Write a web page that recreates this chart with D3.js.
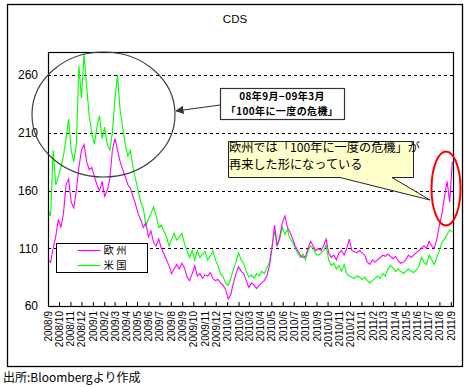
<!DOCTYPE html>
<html>
<head>
<meta charset="utf-8">
<script src="https://cdn.jsdelivr.net/npm/d3@7"></script>
<style>
  body { margin: 0; background: #fff; }
  svg text { font-family: "Liberation Sans", Arial, sans-serif; }
  .jp { font-family: "Noto Sans CJK JP", sans-serif; }
</style>
</head>
<body>
<div id="chart"></div>
<script>
// weekly CDS readings, first week starting 2008/9/1
const startDate = "2008-09-01";
const seriesNames = ["欧州", "米国"];
const euValues = [
  100, 98, 110, 120, 135, 128, 140, 165, 170, 150, 145, 160, 180, 195, 200, 185,
  178, 180, 172, 165, 160, 168, 155, 160, 170, 195, 205, 195, 185, 178, 172, 165,
  162, 155, 148, 140, 135, 128, 132, 120, 125, 115, 112, 118, 110, 105, 100, 95,
  88, 92, 96, 92, 97, 93, 85, 82, 88, 95, 86, 88, 84, 87, 86, 89,
  84, 82, 83, 80, 78, 74, 66, 70, 80, 88, 94, 90, 88, 82, 76, 80,
  78, 75, 78, 80, 82, 86, 95, 110, 130, 112, 120, 132, 138, 128, 124, 118,
  112, 108, 104, 102, 103, 110, 116, 112, 108, 110, 108, 112, 118, 106, 102, 104,
  100, 106, 108, 104, 110, 118, 108, 107, 106, 108, 106, 104, 98, 96, 100, 98,
  100, 102, 104, 103, 105, 103, 101, 103, 99, 97, 98, 100, 104, 102, 104, 106,
  108, 110, 112, 110, 116, 112, 110, 118, 130, 140, 155, 168, 150, 185
];
const usValues = [
  143, 138, 195, 165, 172, 180, 190, 205, 222, 195, 185, 200, 268, 240, 278, 250,
  225, 210, 200, 215, 225, 205, 215, 200, 195, 210, 240, 260, 230, 215, 200, 190,
  195, 180, 170, 160, 150, 145, 130, 135, 140, 146, 138, 128, 130, 125, 120, 112,
  118, 123, 117, 120, 123, 114, 108, 102, 108, 100, 108, 102, 105, 107, 100, 103,
  108, 100, 95, 88, 85, 80, 78, 84, 92, 98, 106, 100, 97, 90, 85, 87,
  84, 88, 86, 90, 88, 93, 98, 112, 125, 112, 118, 128, 122, 126, 118, 115,
  110, 106, 102, 105, 100, 108, 112, 110, 105, 104, 106, 108, 113, 100, 95, 97,
  92, 95, 90, 96, 88, 86, 85, 84, 86, 85, 83, 85, 82, 80, 82, 84,
  86, 84, 88, 86, 92, 95, 93, 90, 92, 90, 88, 90, 92, 90, 89, 91,
  94, 102, 98, 96, 104, 100, 96, 102, 108, 115, 118, 122, 126, 124
];
const tickLabels = [
  "2008/9", "2008/10", "2008/11", "2008/12", "2009/1", "2009/2", "2009/3", "2009/4",
  "2009/5", "2009/6", "2009/7", "2009/8", "2009/9", "2009/10", "2009/11", "2009/12",
  "2010/1", "2010/2", "2010/3", "2010/4", "2010/5", "2010/6", "2010/7", "2010/8",
  "2010/9", "2010/10", "2010/11", "2010/12", "2011/1", "2011/2", "2011/3", "2011/4",
  "2011/5", "2011/6", "2011/7", "2011/8", "2011/9"
];
const yTicks = [60, 110, 160, 210, 260];

const width = 467, height = 387;
const plot = { left: 48, top: 52, right: 453, bottom: 306 };

const parseDay = d3.timeParse("%Y-%m-%d");
const parseMonth = d3.timeParse("%Y/%m");
const d0 = parseDay(startDate);
const weekDate = i => d3.timeDay.offset(d0, i * 7);
const tickDates = tickLabels.map(parseMonth);

const svg = d3.select("#chart")
  .append("svg")
  .attr("width", width)
  .attr("height", height);

// outer frame
svg.append("rect")
  .attr("x", 7.5).attr("y", 4.5)
  .attr("width", 455).attr("height", 362)
  .attr("fill", "#fff").attr("stroke", "#000").attr("stroke-width", 1.3);

const x = d3.scaleTime()
  .domain([d0, parseDay("2011-09-07")])
  .range([plot.left, plot.right]);

const y = d3.scaleLinear()
  .domain([60, 280])
  .range([plot.bottom, plot.top]);

svg.append("text")
  .attr("x", 235).attr("y", 23)
  .attr("text-anchor", "middle")
  .attr("font-size", 11.5)
  .text("CDS");

// dashed grid
svg.append("g")
  .selectAll("line")
  .data(yTicks.slice(1))
  .enter()
  .append("line")
  .attr("x1", plot.left).attr("x2", plot.right)
  .attr("y1", d => Math.round(y(d)) + 0.5)
  .attr("y2", d => Math.round(y(d)) + 0.5)
  .attr("stroke", "#000")
  .attr("stroke-dasharray", "3,3");

// y axis labels
const yAxis = svg.append("g")
  .attr("transform", `translate(${plot.left},0)`)
  .call(d3.axisLeft(y).tickValues(yTicks).tickSize(0).tickPadding(10));
yAxis.select(".domain").remove();
yAxis.selectAll("text")
  .attr("font-size", 12)
  .attr("font-family", "'Liberation Sans', Arial, sans-serif")
  .attr("fill", "#000");

// x axis
const xAxis = svg.append("g")
  .attr("transform", `translate(0,${plot.bottom})`)
  .call(d3.axisBottom(x)
    .tickValues(tickDates)
    .tickFormat((d, i) => tickLabels[i])
    .tickSizeInner(-4)
    .tickSizeOuter(0));
xAxis.select(".domain").remove();
xAxis.selectAll(".tick line").attr("stroke", "#000");
xAxis.selectAll("text")
  .attr("font-size", 10)
  .attr("font-family", "'Liberation Sans', Arial, sans-serif")
  .attr("fill", "#000")
  .attr("text-anchor", "end")
  .attr("transform", "rotate(-90)")
  .attr("x", -5)
  .attr("y", 0)
  .attr("dy", "0.35em");

// series lines
const line = d3.line()
  .x((d, i) => x(weekDate(i)))
  .y(d => y(d));

svg.append("path")
  .datum(usValues)
  .attr("fill", "none")
  .attr("stroke", "#00ff00")
  .attr("stroke-width", 1.1)
  .attr("d", line);

svg.append("path")
  .datum(euValues)
  .attr("fill", "none")
  .attr("stroke", "#ff00ff")
  .attr("stroke-width", 1.1)
  .attr("d", line);

// plot frame
svg.append("rect")
  .attr("x", plot.left + 0.5).attr("y", plot.top + 0.5)
  .attr("width", plot.right - plot.left).attr("height", plot.bottom - plot.top)
  .attr("fill", "none").attr("stroke", "#000").attr("stroke-width", 1.2);

// legend
const legend = svg.append("g").attr("transform", "translate(56.5,243.5)");
legend.append("rect")
  .attr("width", 91).attr("height", 29)
  .attr("fill", "#fff").attr("stroke", "#000");
const colors = ["#ff00ff", "#00ff00"];
seriesNames.forEach((name, i) => {
  legend.append("line")
    .attr("x1", 21).attr("x2", 44)
    .attr("y1", 7 + i * 15).attr("y2", 7 + i * 15)
    .attr("stroke", colors[i]).attr("stroke-width", 1.2);
  legend.append("text")
    .attr("class", "jp")
    .attr("x", 47).attr("y", 7 + i * 15)
    .attr("dy", "0.36em")
    .attr("font-size", 10.3)
    .attr("letter-spacing", 2.5)
    .text(name);
});

// black ellipse around 2008/9 - 2009/3
svg.append("ellipse")
  .attr("cx", 103.5).attr("cy", 114.5)
  .attr("rx", 71.5).attr("ry", 62.5)
  .attr("fill", "none").attr("stroke", "#404040").attr("stroke-width", 1.2);

// arrow
svg.append("defs").append("marker")
  .attr("id", "arr")
  .attr("viewBox", "0 0 10 10")
  .attr("refX", 9).attr("refY", 5)
  .attr("markerWidth", 7).attr("markerHeight", 7)
  .attr("orient", "auto")
  .append("path").attr("d", "M0,0L10,5L0,10z").attr("fill", "#333");
svg.append("line")
  .attr("x1", 220).attr("y1", 105)
  .attr("x2", 176).attr("y2", 111)
  .attr("stroke", "#333").attr("stroke-width", 1.2)
  .attr("marker-end", "url(#arr)");

// annotation box 1
svg.append("rect")
  .attr("x", 220.5).attr("y", 88.5)
  .attr("width", 124).attr("height", 31)
  .attr("fill", "#fff").attr("stroke", "#333").attr("stroke-width", 1.2);
const note1 = ["08年9月−09年3月", "「100年に一度の危機」"];
note1.forEach((t, i) => {
  svg.append("text")
    .attr("class", "jp")
    .attr("x", 282).attr("y", 96.5 + i * 14.5)
    .attr("dy", "0.36em")
    .attr("text-anchor", "middle")
    .attr("font-size", 10)
    .attr("font-weight", "bold")
    .attr("letter-spacing", 0.4)
    .text(t);
});

// callout 2
svg.append("path")
  .attr("d", "M228.5,141.5H413.5V177.5H392L430,200L340,177.5H228.5Z")
  .attr("fill", "#ffffcc").attr("stroke", "#222").attr("stroke-width", 1);
const note2 = ["欧州では「100年に一度の危機」が", "再来した形になっている"];
note2.forEach((t, i) => {
  svg.append("text")
    .attr("class", "jp")
    .attr("x", 229).attr("y", 148 + i * 17)
    .attr("dy", "0.36em")
    .attr("font-size", 12.2)
    .text(t);
});

// red ellipse
svg.append("ellipse")
  .attr("cx", 446).attr("cy", 188.5)
  .attr("rx", 14.5).attr("ry", 37)
  .attr("fill", "none").attr("stroke", "#ff0000").attr("stroke-width", 2);

// source
svg.append("text")
  .attr("class", "jp")
  .attr("x", 3).attr("y", 382)
  .attr("font-size", 12)
  .text("出所:Bloombergより作成");
</script>
</body>
</html>
